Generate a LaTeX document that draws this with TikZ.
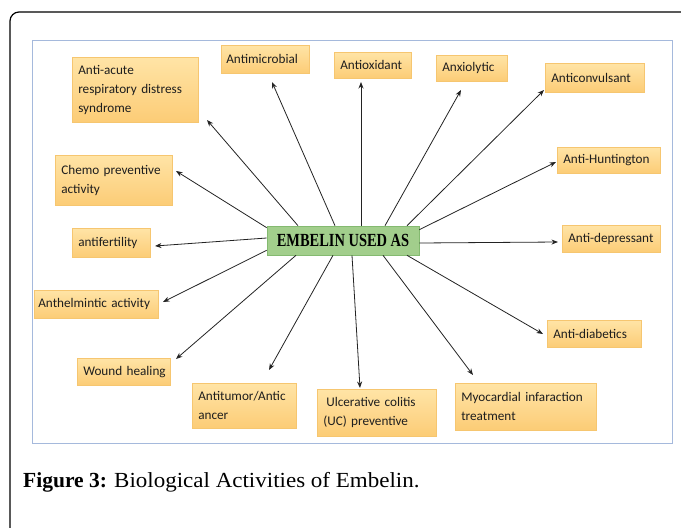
\documentclass[tikz,border=0pt]{standalone}
\usepackage{fontspec}
\usepackage{graphicx}
\usetikzlibrary{arrows.meta}
\newfontfamily\boxfont[WordSpace=0.85]{Carlito}
\newfontfamily\capfont{Liberation Serif}
\definecolor{boxT}{RGB}{255,228,166}
\definecolor{boxB}{RGB}{252,204,118}
\definecolor{boxL}{RGB}{246,198,112}
\definecolor{grnF}{RGB}{162,206,140}
\definecolor{grnL}{RGB}{132,186,112}
\definecolor{frameB}{RGB}{165,185,220}
\definecolor{arrC}{RGB}{35,35,35}
\definecolor{txtC}{RGB}{30,30,30}
\tikzset{
  bx/.style={draw=boxL, line width=0.6pt, top color=boxT, bottom color=boxB,
    anchor=north west, inner xsep=6pt, inner ysep=0pt, align=left, text=txtC,
    font=\boxfont\fontsize{13.2}{19}\selectfont},
  arr/.style={draw=arrC, line width=0.8pt, -{Stealth[length=6.5pt,width=5pt]}},
}
\begin{document}
\begin{tikzpicture}[x=1pt,y=-1pt]
\useasboundingbox (0,0) rectangle (681,528);
% outer frame
\draw[line width=1.2pt, rounded corners=9pt] (10,540) -- (10,12) -- (700,12);
% inner frame
\draw[frameB, line width=0.8pt] (32,40) rectangle (672,443);

% centre
\node[draw=grnL, fill=grnF, line width=0.6pt, minimum width=152pt, minimum height=29pt, inner sep=0pt]
  (c) at (343,240.5) {\capfont\bfseries\fontsize{18.5}{18.5}\selectfont\scalebox{0.78}[1]{EMBELIN USED AS}};

% boxes
\node[bx, minimum width=126pt, minimum height=65pt, text width=114pt] (acute) at (72,57) {Anti-acute\\respiratory distress\\syndrome};
\node[bx, minimum width=88pt, minimum height=28pt, inner xsep=5pt, text width=78pt] (micro) at (221,45) {\mbox{Antimicrobial}};
\node[bx, minimum width=77pt, minimum height=26pt, text width=65pt] (oxi) at (334,52) {\mbox{Antioxidant}};
\node[bx, minimum width=71pt, minimum height=26pt, text width=59pt] (anx) at (436,55) {\mbox{Anxiolytic}};
\node[bx, minimum width=99pt, minimum height=29pt, text width=87pt] (conv) at (545,63) {\mbox{Anticonvulsant}};
\node[bx, minimum width=103pt, minimum height=26pt, text width=91pt] (hunt) at (557,147) {\mbox{Anti-Huntington}};
\node[bx, minimum width=117pt, minimum height=50pt, text width=105pt] (chemo) at (55,155) {Chemo preventive\\activity};
\node[bx, minimum width=78pt, minimum height=29pt, text width=66pt] (fert) at (72,228) {\mbox{antifertility}};
\node[bx, minimum width=98pt, minimum height=27pt, text width=86pt] (dep) at (562,225) {\mbox{Anti-depressant}};
\node[bx, minimum width=124pt, minimum height=28pt, inner xsep=4pt, text width=116pt] (helm) at (34,290) {\mbox{Anthelmintic activity}};
\node[bx, minimum width=94pt, minimum height=27pt, text width=82pt] (diab) at (547,320) {\mbox{Anti-diabetics}};
\node[bx, minimum width=93pt, minimum height=27pt, text width=81pt] (wound) at (77,358) {\mbox{Wound healing}};
\node[bx, minimum width=104pt, minimum height=45pt, text width=92pt] (tumor) at (192,383) {Antitumor/Antic\\ancer};
\node[bx, minimum width=119pt, minimum height=47pt, text width=107pt] (ulc) at (317,389) {\hspace{3pt}Ulcerative colitis\\(UC) preventive};
\node[bx, minimum width=141pt, minimum height=47pt, text width=129pt] (myo) at (455,383) {Myocardial infaraction\\treatment};

% arrow tips
\coordinate (tAcute) at (207,120);
\coordinate (tMicro) at (272,82);
\coordinate (tOxi) at (361,82);
\coordinate (tAnx) at (461,90);
\coordinate (tConv) at (544,90);
\coordinate (tHunt) at (556,162);
\coordinate (tChemo) at (176,171);
\coordinate (tFert) at (155,246);
\coordinate (tDep) at (558,242);
\coordinate (tHelm) at (163,302);
\coordinate (tDiab) at (543,334);
\coordinate (tWound) at (176,359);
\coordinate (tTumor) at (269,370);
\coordinate (tUlc) at (360,388);
\coordinate (tMyo) at (473,375);

% arrows
\draw[arr] ([xshift=-45pt]c.north) -- (tAcute);
\draw[arr] ([xshift=-8pt]c.north) -- (tMicro);
\draw[arr] ([xshift=18pt]c.north) -- (tOxi);
\draw[arr] ([xshift=42pt]c.north) -- (tAnx);
\draw[arr] ([xshift=64pt]c.north) -- (tConv);
\draw[arr] ([yshift=-4pt]c.north east) -- (tHunt);
\draw[arr] ([yshift=-2pt]c.north west) -- (tChemo);
\draw[arr] ([yshift=2.5pt]c.west) -- (tFert);
\draw[arr] ([yshift=-2.5pt]c.east) -- (tDep);
\draw[arr] ([yshift=5pt]c.south west) -- (tHelm);
\draw[arr] ([xshift=64pt]c.south) -- (tDiab);
\draw[arr] ([xshift=-47pt]c.south) -- (tWound);
\draw[arr] ([xshift=-10pt]c.south) -- (tTumor);
\draw[arr] ([xshift=9pt]c.south) -- (tUlc);
\draw[arr] ([xshift=40pt]c.south) -- (tMyo);

% caption
\node[anchor=base west, inner sep=0pt] (cap) at (23,487)
  {\capfont\fontsize{21.5}{21.5}\selectfont\textbf{Figure 3:} \scalebox{1.07}[1]{Biological Activities of Embelin.}};
\end{tikzpicture}
\end{document}
